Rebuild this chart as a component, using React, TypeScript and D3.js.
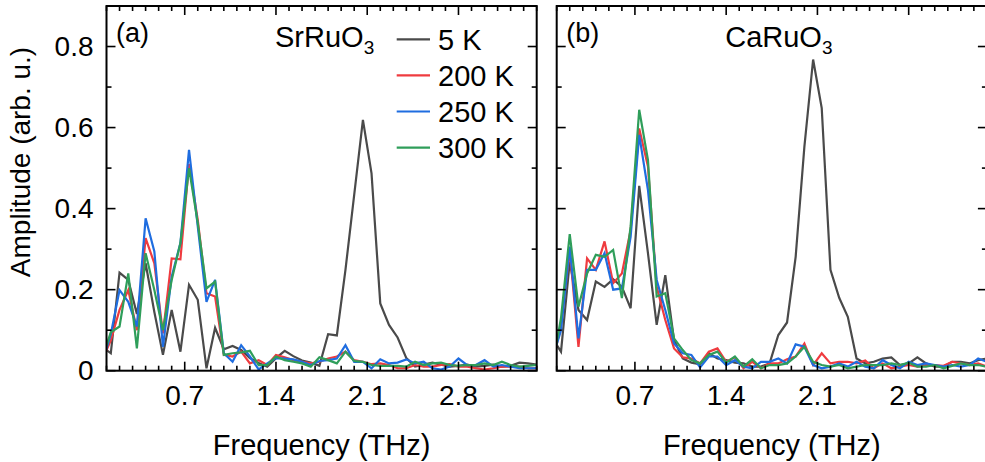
import React from 'react';
import * as d3 from 'd3';

// Frequency grid (THz)
const FREQ = [0.067, 0.133, 0.2, 0.267, 0.333, 0.4, 0.467, 0.533, 0.6, 0.667, 0.733, 0.8, 0.867, 0.933, 1.0, 1.067, 1.133, 1.2, 1.267, 1.333, 1.4, 1.467, 1.533, 1.6, 1.667, 1.733, 1.8, 1.867, 1.933, 2.0, 2.067, 2.133, 2.2, 2.267, 2.333, 2.4, 2.467, 2.533, 2.6, 2.667, 2.733, 2.8, 2.867, 2.933, 3.0, 3.067, 3.133, 3.2, 3.267, 3.333, 3.4];

// SrRuO3
const SR_5K = [0.059, 0.043, 0.242, 0.224, 0.14, 0.265, 0.145, 0.039, 0.15, 0.047, 0.212, 0.175, 0.006, 0.106, 0.053, 0.061, 0.051, 0.031, 0.019, 0.01, 0.031, 0.049, 0.036, 0.025, 0.02, 0.012, 0.09, 0.087, 0.249, 0.434, 0.619, 0.487, 0.166, 0.113, 0.082, 0.031, 0.01, 0.015, 0.02, 0.015, 0.01, 0.012, 0.015, 0.01, 0.012, 0.015, 0.01, 0.012, 0.02, 0.018, 0.015];
const SR_200K = [0.027, 0.075, 0.15, 0.199, 0.1, 0.327, 0.265, 0.092, 0.277, 0.275, 0.51, 0.372, 0.191, 0.183, 0.039, 0.035, 0.047, 0.018, 0.026, 0.014, 0.039, 0.033, 0.026, 0.022, 0.018, 0.022, 0.03, 0.035, 0.047, 0.026, 0.022, 0.016, 0.018, 0.014, 0.006, 0.006, 0.014, 0.01, 0.01, 0.014, 0.016, 0.01, 0.01, 0.006, 0.003, 0.006, 0.01, 0.01, 0.01, 0.006, 0.006];
const SR_250K = [0.02, 0.09, 0.199, 0.17, 0.109, 0.376, 0.294, 0.059, 0.232, 0.315, 0.545, 0.356, 0.17, 0.224, 0.043, 0.022, 0.063, 0.035, 0.003, 0.018, 0.031, 0.03, 0.028, 0.022, 0.014, 0.024, 0.026, 0.03, 0.063, 0.022, 0.022, 0.006, 0.028, 0.018, 0.02, 0.028, 0.018, 0.022, 0.006, 0.003, 0.01, 0.03, 0.014, 0.014, 0.026, 0.01, 0.014, 0.01, 0.006, 0.006, 0.006];
const SR_300K = [0.031, 0.095, 0.109, 0.24, 0.055, 0.29, 0.199, 0.1, 0.224, 0.315, 0.5, 0.364, 0.203, 0.22, 0.039, 0.043, 0.045, 0.049, 0.014, 0.014, 0.035, 0.026, 0.022, 0.018, 0.01, 0.033, 0.026, 0.018, 0.047, 0.024, 0.022, 0.014, 0.012, 0.012, 0.012, 0.01, 0.022, 0.014, 0.018, 0.02, 0.014, 0.012, 0.014, 0.014, 0.018, 0.014, 0.022, 0.014, 0.01, 0.012, 0.014];

// CaRuO3
const CA_5K = [0.08, 0.047, 0.269, 0.15, 0.125, 0.22, 0.207, 0.226, 0.207, 0.154, 0.456, 0.29, 0.113, 0.236, 0.076, 0.03, 0.02, 0.016, 0.043, 0.03, 0.026, 0.02, 0.018, 0.01, 0.01, 0.018, 0.088, 0.119, 0.281, 0.553, 0.768, 0.648, 0.249, 0.18, 0.133, 0.03, 0.018, 0.022, 0.03, 0.033, 0.014, 0.018, 0.033, 0.018, 0.01, 0.01, 0.022, 0.022, 0.018, 0.026, 0.03];
const CA_200K = [0.02, 0.11, 0.298, 0.059, 0.277, 0.249, 0.319, 0.216, 0.24, 0.347, 0.598, 0.504, 0.207, 0.125, 0.055, 0.033, 0.03, 0.018, 0.047, 0.055, 0.022, 0.033, 0.006, 0.022, 0.006, 0.018, 0.018, 0.028, 0.035, 0.067, 0.014, 0.043, 0.018, 0.022, 0.022, 0.018, 0.025, 0.006, 0.018, 0.006, 0.01, 0.014, 0.01, 0.014, 0.014, 0.012, 0.022, 0.018, 0.014, 0.018, 0.01];
const CA_250K = [0.03, 0.1, 0.306, 0.08, 0.249, 0.249, 0.29, 0.2, 0.203, 0.33, 0.582, 0.446, 0.224, 0.15, 0.067, 0.043, 0.039, 0.008, 0.035, 0.035, 0.014, 0.026, 0.01, 0.006, 0.022, 0.022, 0.03, 0.018, 0.065, 0.059, 0.014, 0.006, 0.01, 0.018, 0.01, 0.022, 0.01, 0.006, 0.026, 0.014, 0.006, 0.022, 0.014, 0.018, 0.014, 0.01, 0.014, 0.01, 0.014, 0.03, 0.022];
const CA_300K = [0.01, 0.13, 0.337, 0.158, 0.24, 0.286, 0.281, 0.298, 0.179, 0.356, 0.644, 0.52, 0.183, 0.191, 0.08, 0.051, 0.026, 0.018, 0.039, 0.047, 0.02, 0.035, 0.01, 0.028, 0.006, 0.014, 0.014, 0.018, 0.035, 0.059, 0.022, 0.014, 0.01, 0.014, 0.006, 0.01, 0.014, 0.014, 0.014, 0.018, 0.014, 0.02, 0.01, 0.01, 0.014, 0.006, 0.012, 0.018, 0.014, 0.014, 0.01];

const X_TICKS = [0.7, 1.4, 2.1, 2.8];
const Y_TICKS = [0, 0.2, 0.4, 0.6, 0.8];
const Y_TICK_LABELS = ['0', '0.2', '0.4', '0.6', '0.8'];
const LEGEND = ['5 K', '200 K', '250 K', '300 K'];
const COLORS = ['#4a4a4a', '#ef3b3f', '#1f6de0', '#2f9e5a'];
const PANEL_LABELS = ['(a)', '(b)'];
const COMPOUNDS = ['SrRuO', 'CaRuO'];

const FONT = "'Liberation Sans', Arial, Helvetica, sans-serif";
const W = 985;
const H = 462;
const TOP = 6;
const BOTTOM = 370.7;
const PW = 430.2;
const LEFTS = [106.5, 556.7];

const X_DOMAIN: [number, number] = [0.1, 3.4];
const Y_DOMAIN: [number, number] = [0, 0.9];

function Panel({ idx, series }: { idx: number; series: number[][] }) {
  const left = LEFTS[idx];
  const x = d3.scaleLinear().domain(X_DOMAIN).range([left, left + PW]);
  const y = d3.scaleLinear().domain(Y_DOMAIN).range([BOTTOM, TOP]);
  const line = d3
    .line<number>()
    .x((_, i) => x(FREQ[i]))
    .y((d) => y(d));
  const clipId = `clip-${idx}`;
  const minorX = d3.range(1, 35).map((d) => d / 10);
  const minorY = d3.range(0, 10).map((d) => d / 10);
  const isMajorX = (v: number) => Math.abs(Math.round(v * 10) % 7) === 0;
  const isMajorY = (v: number) => Math.round(v * 10) % 2 === 0;
  const right = left + PW;
  const cx = left + PW / 2;
  return (
    <g>
      <defs>
        <clipPath id={clipId}>
          <rect x={left} y={TOP} width={PW} height={BOTTOM - TOP} />
        </clipPath>
      </defs>
      <g clipPath={`url(#${clipId})`}>
        {series.map((s, si) => (
          <path
            key={si}
            d={line(s) || ''}
            fill="none"
            stroke={COLORS[si]}
            strokeWidth={2.2}
            strokeLinejoin="miter"
          />
        ))}
      </g>
      {minorX.map((v) => {
        const len = isMajorX(v) ? 9 : 5;
        return (
          <g key={'x' + v}>
            <line x1={x(v)} x2={x(v)} y1={BOTTOM} y2={BOTTOM - len} stroke="#000" strokeWidth={1.6} />
            <line x1={x(v)} x2={x(v)} y1={TOP} y2={TOP + len} stroke="#000" strokeWidth={1.6} />
          </g>
        );
      })}
      {minorY.map((v) => {
        const len = isMajorY(v) ? 9 : 5;
        return (
          <g key={'y' + v}>
            <line x1={left} x2={left + len} y1={y(v)} y2={y(v)} stroke="#000" strokeWidth={1.6} />
            <line x1={right} x2={right - len} y1={y(v)} y2={y(v)} stroke="#000" strokeWidth={1.6} />
          </g>
        );
      })}
      <rect x={left} y={TOP} width={PW} height={BOTTOM - TOP} fill="none" stroke="#000" strokeWidth={2} />
      {X_TICKS.map((v) => (
        <text key={'xl' + v} x={x(v)} y={404.5} textAnchor="middle" fontSize={28} fontFamily={FONT} fill="#000">
          {v.toFixed(1)}
        </text>
      ))}
      {idx === 0 &&
        Y_TICKS.map((v, i) => (
          <text key={'yl' + v} x={left - 13} y={y(v) + 9.5} textAnchor="end" fontSize={28} fontFamily={FONT} fill="#000">
            {Y_TICK_LABELS[i]}
          </text>
        ))}
      <text x={cx} y={455} textAnchor="middle" fontSize={29} fontFamily={FONT} fill="#000">
        Frequency (THz)
      </text>
      <text x={left + 9.5} y={42} fontSize={27} fontFamily={FONT} fill="#000">
        {PANEL_LABELS[idx]}
      </text>
      <text x={left + 168.5} y={46.7} fontSize={29} fontFamily={FONT} fill="#000">
        {COMPOUNDS[idx]}
        <tspan fontSize={19} dy={7}>3</tspan>
      </text>
      {idx === 0 &&
        LEGEND.map((lab, i) => {
          const ly = 39.3 + i * 36.1;
          return (
            <g key={lab}>
              <line x1={left + 290.2} x2={left + 323.5} y1={ly} y2={ly} stroke={COLORS[i]} strokeWidth={2.2} />
              <text x={left + 331.5} y={ly + 10.3} fontSize={29} fontFamily={FONT} fill="#000">
                {lab}
              </text>
            </g>
          );
        })}
    </g>
  );
}

export default function App() {
  const panels = [
    [SR_5K, SR_200K, SR_250K, SR_300K],
    [CA_5K, CA_200K, CA_250K, CA_300K],
  ];
  return (
    <svg
      width={W}
      height={H}
      viewBox={`0 0 ${W} ${H}`}
      style={{ position: 'absolute', left: 0, top: 0, background: '#fff' }}
    >
      <rect x={0} y={0} width={W} height={H} fill="#fff" />
      {panels.map((s, i) => (
        <Panel key={i} idx={i} series={s} />
      ))}
      <text
        transform={`translate(30, ${162}) rotate(-90)`}
        textAnchor="middle"
        fontSize={28}
        fontFamily={FONT}
        fill="#000"
      >
        Amplitude (arb. u.)
      </text>
    </svg>
  );
}
